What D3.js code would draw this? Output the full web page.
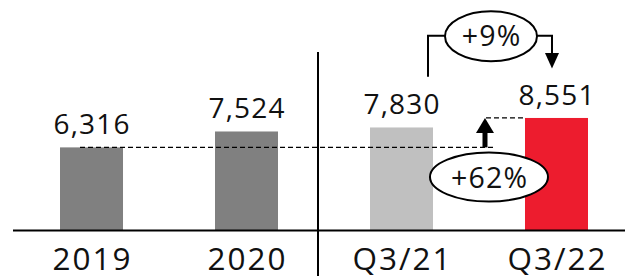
<!DOCTYPE html>
<html><head><meta charset="utf-8">
<script src="https://cdn.jsdelivr.net/npm/d3@7"></script>
<style>
html,body{margin:0;padding:0;background:#fff;}
svg{display:block;font-family:"Open Sans",sans-serif;}
</style></head>
<body><svg id="c" width="625" height="276"></svg>
<script>
const categories = ["2019", "2020", "Q3/21", "Q3/22"];
const values = [6316, 7524, 7830, 8551];
const barColors = ["#808080", "#808080", "#c0c0c0", "#ed1c2e"];
const valueLabels = ["6,316", "7,524", "7,830", "8,551"];
const changeLabels = ["+9%", "+62%"];

const svg = d3.select("#c");
const baseY = 230.5;
const x = d3.scaleBand().domain(categories).range([14, 634]).paddingInner(0.5935).paddingOuter(0.2968);
const y = d3.scaleLinear().domain([0, 10000]).range([baseY, baseY - 131.6]);
const bw = x.bandwidth();

// bars
svg.selectAll("rect.bar").data(categories).join("rect")
  .attr("class", "bar")
  .attr("x", d => x(d)).attr("width", bw)
  .attr("y", (d, i) => y(values[i])).attr("height", (d, i) => baseY - y(values[i]))
  .attr("fill", (d, i) => barColors[i]);

// value labels
svg.selectAll("text.val").data(categories).join("text")
  .attr("class", "val")
  .attr("x", d => x(d) + bw / 2 + 0.6)
  .attr("y", (d, i) => y(values[i]) - 13)
  .attr("text-anchor", "middle")
  .attr("font-size", 28).attr("letter-spacing", 1.2).attr("fill", "#111")
  .text((d, i) => valueLabels[i]);

// x axis
const axis = svg.append("g").attr("transform", `translate(0,${baseY})`)
  .call(d3.axisBottom(x).tickSize(0).tickPadding(0));
axis.select(".domain").remove();
axis.append("line").attr("x1", 13).attr("x2", 625).attr("stroke", "#000").attr("stroke-width", 2);
axis.selectAll(".tick text")
  .attr("y", 39.5).attr("dy", null).attr("dx", 1)
  .attr("font-size", 31.5).attr("letter-spacing", 2).attr("font-family", "Open Sans, sans-serif").attr("fill", "#111");

// separator
const sepX = (x(categories[1]) + bw + x(categories[2])) / 2 - 6;
svg.append("line").attr("x1", sepX).attr("x2", sepX).attr("y1", 52).attr("y2", 276)
  .attr("stroke", "#000").attr("stroke-width", 2);

// dashed reference lines
const yBase = y(values[0]);
const arrowX = x(categories[3]) - 40;
svg.append("line").attr("x1", x(categories[0]) + 20).attr("x2", arrowX + 11)
  .attr("y1", yBase).attr("y2", yBase)
  .attr("stroke", "#000").attr("stroke-width", 1.3).attr("stroke-dasharray", "5,3");
const yTop = y(values[3]);
svg.append("line").attr("x1", arrowX + 1).attr("x2", x(categories[3]))
  .attr("y1", yTop).attr("y2", yTop)
  .attr("stroke", "#000").attr("stroke-width", 1.3).attr("stroke-dasharray", "5,3");

// up arrow
svg.append("line").attr("x1", arrowX).attr("x2", arrowX).attr("y1", yBase).attr("y2", yTop + 14)
  .attr("stroke", "#000").attr("stroke-width", 5);
svg.append("path")
  .attr("d", `M${arrowX - 9},${yTop + 15} L${arrowX + 9},${yTop + 15} L${arrowX},${yTop} Z`)
  .attr("fill", "#000");

// +62% ellipse
const e2x = arrowX + 4, e2y = 177;
svg.append("ellipse").attr("cx", e2x).attr("cy", e2y).attr("rx", 59).attr("ry", 24.5)
  .attr("fill", "#fff").attr("stroke", "#000").attr("stroke-width", 2);
svg.append("text").attr("x", e2x + 0.6).attr("y", e2y + 11).attr("text-anchor", "middle")
  .attr("font-size", 28.5).attr("letter-spacing", 1.2).attr("fill", "#111").text(changeLabels[1]);

// +9% bracket
const bL = x(categories[2]) + bw - 5, bR = x(categories[3]) + bw / 2 - 4.5, bTop = 35.7;
const e1x = (bL + bR) / 2 + 1;
svg.append("path")
  .attr("d", `M${bL},76.7 L${bL},${bTop} L${bR},${bTop} L${bR},55`)
  .attr("fill", "none").attr("stroke", "#000").attr("stroke-width", 2);
svg.append("path")
  .attr("d", `M${bR - 7},53 L${bR + 7},53 L${bR},68.5 Z`).attr("fill", "#000");
svg.append("ellipse").attr("cx", e1x).attr("cy", bTop + 0.6).attr("rx", 46).attr("ry", 25)
  .attr("fill", "#fff").attr("stroke", "#000").attr("stroke-width", 2);
svg.append("text").attr("x", e1x + 0.6).attr("y", 45.7).attr("text-anchor", "middle")
  .attr("font-size", 28.5).attr("letter-spacing", 1.2).attr("fill", "#111").text(changeLabels[0]);
</script></body></html>
